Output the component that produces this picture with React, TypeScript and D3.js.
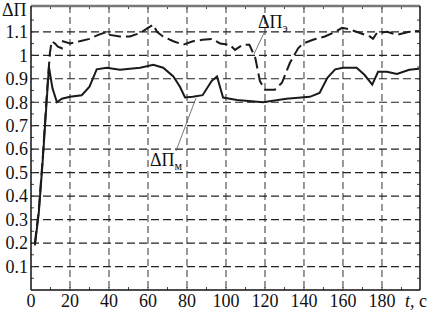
import React from 'react';
import * as d3 from 'd3';

// ΔΠм (solid) and ΔΠэ (dashed)
const tSolid = [2, 4, 6, 8, 9.2, 11, 13.3, 15.8, 20, 26, 30, 33.7, 38.8, 45.6, 56, 62.7, 67.8, 73, 76.4, 79, 83, 88, 92.6, 95.4, 98.5, 105.6, 119, 131, 143, 148, 152, 156, 160, 167, 171, 175, 178, 182.5, 187.7, 194, 199];
const vSolid = [0.19, 0.33, 0.55, 0.8, 0.95, 0.86, 0.8, 0.815, 0.823, 0.83, 0.866, 0.94, 0.947, 0.938, 0.947, 0.96, 0.947, 0.91, 0.866, 0.82, 0.823, 0.83, 0.89, 0.91, 0.82, 0.81, 0.8, 0.815, 0.823, 0.84, 0.904, 0.94, 0.947, 0.947, 0.917, 0.875, 0.93, 0.93, 0.92, 0.938, 0.943];

const tDash = [2, 4, 6, 8, 9.7, 10.6, 12.3, 13.8, 15.8, 16.4, 20, 25, 30, 34.5, 39, 40.5, 45.6, 50.7, 56, 60, 62.7, 64.6, 67.7, 73, 78, 83, 88, 93, 97, 102, 104.6, 108.7, 112, 115, 117.4, 120, 125, 128.7, 132.8, 137, 139.5, 144.6, 150.7, 156, 159.5, 163.6, 168.7, 173.8, 175.4, 177.4, 182.6, 187.7, 194, 199];
const vDash = [0.2, 0.34, 0.56, 0.82, 1.01, 1.06, 1.05, 1.037, 1.03, 1.06, 1.05, 1.06, 1.07, 1.087, 1.1, 1.087, 1.08, 1.08, 1.095, 1.117, 1.13, 1.1, 1.08, 1.06, 1.045, 1.06, 1.066, 1.07, 1.05, 1.045, 1.023, 1.045, 1.045, 0.99, 0.89, 0.853, 0.853, 0.883, 0.968, 1.03, 1.05, 1.066, 1.08, 1.1, 1.117, 1.11, 1.095, 1.08, 1.07, 1.095, 1.1, 1.087, 1.1, 1.104];

const xTicks = [0, 20, 40, 60, 80, 100, 120, 140, 160, 180];
const yTicks = [0.1, 0.2, 0.3, 0.4, 0.5, 0.6, 0.7, 0.8, 0.9, 1.0, 1.1];

const W = 430, H = 311;
const left = 31, right = 420, top = 6, bottom = 290;
const font = "'Liberation Serif', 'DejaVu Serif', serif";

export default function App() {
  const x = d3.scaleLinear().domain([0, 199.5]).range([left, right]);
  const y = d3.scaleLinear().domain([0, 1.21]).range([bottom, top]);

  const line = d3.line<[number, number]>().x(d => x(d[0])).y(d => y(d[1]));
  const solid = line(tSolid.map((t, i) => [t, vSolid[i]]));
  const dashed = line(tDash.map((t, i) => [t, vDash[i]]));

  const minorX = d3.range(10, 200, 10);
  const minorY = d3.range(0.05, 1.2, 0.05);

  const txt = { fontFamily: font, fontSize: 18, fill: '#111' };

  return (
    <svg width={W} height={H} style={{ position: 'absolute', left: 0, top: 0, background: '#fff' }}>
      {/* grid */}
      {xTicks.slice(1).map(t => (
        <line key={'gx' + t} x1={x(t)} x2={x(t)} y1={top} y2={bottom}
          stroke="#333" strokeWidth={1} strokeDasharray="7,4" />
      ))}
      {yTicks.map(v => (
        <line key={'gy' + v} x1={left} x2={right} y1={y(v)} y2={y(v)}
          stroke="#222" strokeWidth={1.2} strokeDasharray="8,4" />
      ))}
      {/* minor ticks, inward on every side */}
      {minorX.map(t => (
        <g key={'mx' + t}>
          <line x1={x(t)} x2={x(t)} y1={bottom} y2={bottom - 3} stroke="#444" />
          <line x1={x(t)} x2={x(t)} y1={top} y2={top + 3} stroke="#444" />
        </g>
      ))}
      {minorY.map(v => (
        <g key={'my' + v.toFixed(2)}>
          <line x1={left} x2={left + 3} y1={y(v)} y2={y(v)} stroke="#444" />
          <line x1={right} x2={right - 3} y1={y(v)} y2={y(v)} stroke="#444" />
        </g>
      ))}
      {/* frame */}
      <line x1={left} x2={right} y1={top} y2={top} stroke="#777" strokeWidth={2.5} />
      <line x1={left} x2={left} y1={top} y2={bottom} stroke="#111" strokeWidth={1.5} />
      <line x1={right} x2={right} y1={top} y2={bottom} stroke="#111" strokeWidth={1.5} />
      <line x1={left} x2={right} y1={bottom} y2={bottom} stroke="#111" strokeWidth={1.5} />

      {/* series */}
      <path d={dashed ?? ''} fill="none" stroke="#1a1a1a" strokeWidth={2} strokeDasharray="12,5" />
      <path d={solid ?? ''} fill="none" stroke="#1a1a1a" strokeWidth={2} />

      {/* tick labels */}
      {yTicks.map(v => (
        <text key={'ly' + v} x={28} y={y(v)} dy="0.35em" textAnchor="end" style={txt}>
          {v === 1 ? '1' : String(v)}
        </text>
      ))}
      {xTicks.map(t => (
        <text key={'lx' + t} x={x(t)} y={307} textAnchor="middle" style={txt}>{t}</text>
      ))}
      <text x={405} y={307} style={txt}>
        <tspan fontStyle="italic">t</tspan>, c
      </text>
      <text x={2} y={16} style={txt}>ΔΠ</text>

      {/* annotations */}
      <line x1={264} y1={33} x2={254} y2={54} stroke="#555" strokeWidth={0.8} />
      <text x={258} y={28} style={txt}>
        ΔΠ<tspan fontSize={12} dy={4}>э</tspan>
      </text>
      <line x1={176} y1={151} x2={196} y2={98} stroke="#555" strokeWidth={0.8} />
      <text x={150} y={166} style={txt}>
        ΔΠ<tspan fontSize={12} dy={4}>м</tspan>
      </text>
    </svg>
  );
}
